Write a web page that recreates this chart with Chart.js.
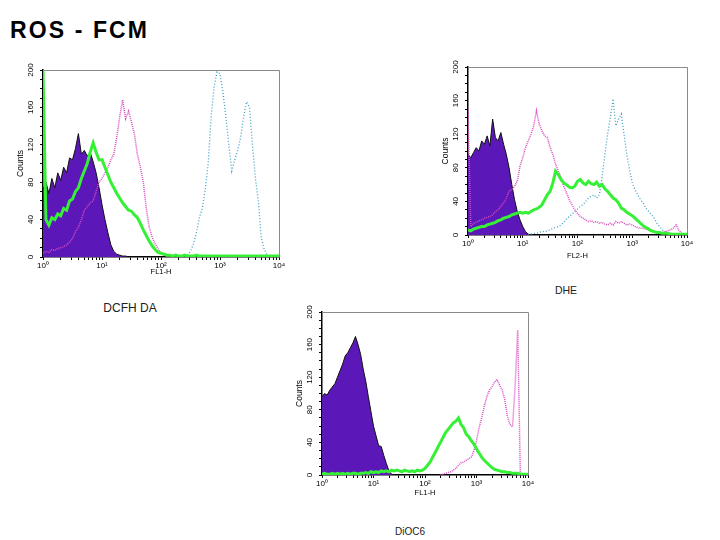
<!DOCTYPE html>
<html>
<head>
<meta charset="utf-8">
<script src="https://cdn.jsdelivr.net/npm/chart.js@4.4.1/dist/chart.umd.min.js"></script>
<style>
  body { margin: 0; width: 720px; height: 540px; background: #fff; position: relative; overflow: hidden; font-family: 'Liberation Sans', Arial, sans-serif; }
  canvas { position: absolute; }
  #titulo { position: absolute; left: 10px; top: 19px; font-size: 23px; line-height: 23px; font-weight: bold; letter-spacing: 2.1px; color: #000; white-space: nowrap; }
  .rotulo { position: absolute; transform: translate(-50%, -50%); color: #222; white-space: nowrap; }
</style>
</head>
<body>
<div id="titulo">ROS - FCM</div>

<canvas id="graficoDCFH" width="282" height="215" style="left:7px; top:62px;"></canvas>
<canvas id="graficoDHE" width="265" height="202" style="left:432px; top:59px;"></canvas>
<canvas id="graficoDiOC6" width="252" height="194" style="left:286px; top:304px;"></canvas>

<div class="rotulo" style="left:130px; top:308px; font-size:12px; line-height:12px;">DCFH DA</div>
<div class="rotulo" style="left:566px; top:290px; font-size:10.5px; line-height:10.5px;">DHE</div>
<div class="rotulo" style="left:410px; top:532px; font-size:10px; line-height:10px;">DiOC6</div>

<script>
const _ = null;

// posicion de cada canal en decadas (10^0 ... 10^4)
const canales = [
  0, 0.05, 0.1, 0.15, 0.2, 0.25, 0.3, 0.35, 0.4, 0.45, 0.5, 0.55, 0.6, 0.65, 0.7, 0.75, 0.8, 0.85, 0.9, 0.95,
  1, 1.05, 1.1, 1.15, 1.2, 1.25, 1.3, 1.35, 1.4, 1.45, 1.5, 1.55, 1.6, 1.65, 1.7, 1.75, 1.8, 1.85, 1.9, 1.95,
  2, 2.05, 2.1, 2.15, 2.2, 2.25, 2.3, 2.35, 2.4, 2.45, 2.5, 2.55, 2.6, 2.65, 2.7, 2.75, 2.8, 2.85, 2.9, 2.95,
  3, 3.05, 3.1, 3.15, 3.2, 3.25, 3.3, 3.35, 3.4, 3.45, 3.5, 3.55, 3.6, 3.65, 3.7, 3.75, 3.8, 3.85, 3.9, 3.95,
  4
];
const etiquetasX = ['10⁰', '10¹', '10²', '10³', '10⁴'];
const etiquetasY = [0, 40, 80, 120, 160, 200];

// DCFH DA (FL1-H)
const dcfhControl = [
  72, 80, 68, 84, 74, 90, 82, 96, 90, 106, 104, 116, 132, 110, 114, 108, 112, 102, 90, 74,
  56, 40, 26, 13, 6, 3, 2, 1, 1, 0, 0, 0, 0, 0, 0, 0, 0, 0, 0, 0,
  _, _, _, _, _, _, _, _, _, _, _, _, _, _, _, _, _, _, _, _,
  _, _, _, _, _, _, _, _, _, _, _, _, _, _, _, _, _, _, _, _,
  _
];
const dcfhVerde = [
  200, 40, 34, 42, 40, 46, 44, 52, 50, 60, 62, 70, 74, 84, 92, 100, 112, 122, 112, 104,
  104, 96, 88, 80, 74, 68, 63, 58, 54, 50, 49, 45, 42, 36, 29, 23, 17, 12, 8, 5,
  4, 3, 2, 2, 1, 2, 1, 1, 2, 1, 1, 1, 2, 1, 1, 1, 1, 1, 1, 1,
  1, 1, 1, 1, 1, 1, 1, 1, 1, 1, 1, 1, 1, 1, 1, 1, 1, 1, 1, 1,
  1
];
const dcfhMagenta = [
  4, 6, 5, 8, 7, 9, 10, 11, 13, 16, 20, 27, 32, 40, 50, 54, 58, 60, 70, 80,
  84, 90, 96, 104, 110, 128, 150, 168, 148, 156, 144, 131, 110, 96, 80, 52, 32, 21, 14, 9,
  4, 2, 1, 0, _, _, _, _, _, _, _, _, _, _, _, _, _, _, _, _,
  _, _, _, _, _, _, _, _, _, _, _, _, _, _, _, _, _, _, _, _,
  _
];
const dcfhCian = [
  _, _, _, _, _, _, _, _, _, _, _, _, _, _, _, _, _, _, _, _,
  _, _, _, _, _, _, _, _, _, _, _, _, _, _, _, _, _, _, _, _,
  _, _, _, _, _, _, _, _, 1, 2, 6, 14, 26, 42, 52, 72, 100, 150, 182, 198,
  196, 176, 150, 120, 92, 104, 114, 128, 150, 166, 160, 120, 84, 60, 20, 8, 2, 0, _, _,
  _
];

// DHE (FL2-H)
const dheControl = [
  96, 92, 98, 104, 100, 112, 108, 118, 106, 138, 116, 112, 122, 108, 96, 80, 60, 42, 28, 18,
  10, 4, 1, 0, _, _, _, _, _, _, _, _, _, _, _, _, _, _, _, _,
  _, _, _, _, _, _, _, _, _, _, _, _, _, _, _, _, _, _, _, _,
  _, _, _, _, _, _, _, _, _, _, _, _, _, _, _, _, _, _, _, _,
  _
];
const dheVerde = [
  6, 5, 7, 8, 9, 10, 10, 12, 13, 14, 15, 17, 18, 20, 21, 22, 24, 25, 26, 27,
  26, 27, 26, 28, 30, 31, 33, 36, 42, 48, 52, 62, 76, 72, 66, 62, 60, 57, 56, 58,
  64, 66, 62, 60, 64, 61, 60, 63, 58, 60, 55, 52, 48, 44, 42, 38, 32, 30, 27, 25,
  23, 20, 17, 14, 11, 9, 7, 5, 4, 3, 3, 2, 2, 2, 1, 1, 1, 1, 1, 1,
  1
];
const dheMagenta = [
  150, 10, 14, 15, 17, 18, 20, 21, 22, 24, 28, 30, 34, 38, 44, 52, 54, 58, 64, 82,
  92, 104, 112, 120, 130, 148, 132, 124, 118, 116, 104, 96, 84, 76, 68, 58, 50, 42, 36, 30,
  26, 22, 20, 18, 16, 17, 15, 16, 14, 15, 13, 12, 14, 12, 16, 14, 16, 14, 12, 13,
  12, 10, 9, 8, 8, 7, 6, 5, 4, 4, 3, 3, 4, 5, 6, 8, 12, 6, 2, 0,
  _
];
const dheCian = [
  _, _, _, _, _, _, _, _, _, _, _, _, _, _, _, _, _, _, _, _,
  _, _, 1, 1, 2, 2, 3, 4, 4, 5, 6, 8, 9, 10, 12, 15, 19, 22, 25, 28,
  31, 34, 36, 40, 44, 46, 48, 44, 48, 70, 96, 120, 140, 162, 130, 138, 144, 120, 96, 78,
  62, 54, 48, 42, 38, 32, 28, 24, 20, 14, 10, 6, 4, 2, 1, 0, _, _, _, _,
  _
];

// DiOC6 (FL1-H)
const diocControl = [
  96, 100, 98, 104, 108, 112, 120, 128, 136, 146, 150, 156, 162, 170, 160, 148, 130, 115, 96, 78,
  60, 48, 36, 35, 24, 14, 5, 1, 0, 0, _, _, _, _, _, _, _, _, _, _,
  _, _, _, _, _, _, _, _, _, _, _, _, _, _, _, _, _, _, _, _,
  _, _, _, _, _, _, _, _, _, _, _, _, _, _, _, _, _, _, _, _,
  _
];
const diocVerde = [
  1, 2, 1, 1, 2, 1, 2, 1, 2, 1, 2, 1, 2, 2, 1, 2, 2, 3, 2, 4,
  3, 4, 3, 5, 4, 5, 4, 6, 5, 6, 5, 4, 6, 5, 4, 5, 4, 6, 5, 6,
  8, 12, 16, 22, 28, 34, 40, 46, 52, 56, 60, 64, 66, 70, 62, 58, 50, 47, 42, 38,
  32, 27, 22, 18, 15, 12, 9, 7, 6, 5, 4, 4, 3, 3, 2, 2, 2, 1, 1, 1,
  1
];
const diocMagenta = [
  _, _, _, _, _, _, _, _, _, _, _, _, _, _, _, _, _, _, _, _,
  _, _, _, _, _, _, _, _, _, _, _, _, _, _, _, _, _, _, _, _,
  _, _, _, _, _, _, 0, 1, 2, 3, 4, 6, 8, 12, 15, 16, 18, 20, 22, 30,
  42, 58, 70, 84, 96, 104, 108, 114, 117, 110, 104, 92, 72, 62, 59, 110, 178, 4, 0, _,
  _
];

const fuente = "'Liberation Sans', Arial, sans-serif";

const estilos = {
  control: { borderColor: '#111', borderWidth: 1, backgroundColor: '#5b17b8', fill: 'origin' },
  verde: { borderColor: '#35f035', borderWidth: 3, fill: false },
  magenta: { borderColor: '#d94cc0', borderWidth: 1.5, borderDash: [1, 1], fill: false },
  cian: { borderColor: '#3f9fc2', borderWidth: 1.3, borderDash: [1, 2], fill: false }
};

// linea gris arriba y a la derecha del area del grafico
const marco = {
  id: 'marco',
  afterDatasetsDraw(chart) {
    const { ctx, chartArea: a } = chart;
    ctx.save();
    ctx.strokeStyle = '#8a8a8a';
    ctx.lineWidth = 1;
    ctx.beginPath();
    ctx.moveTo(a.left, a.top + 0.5);
    ctx.lineTo(a.right + 0.5, a.top + 0.5);
    ctx.lineTo(a.right + 0.5, a.bottom);
    ctx.stroke();
    ctx.restore();
  }
};

function aPuntos(valores) {
  return valores.map((v, i) => ({ x: 10 ** canales[i], y: v }));
}

function crearPanel(idCanvas, tituloX, series, altoX) {
  const datasets = series.map(s => Object.assign({
    data: aPuntos(s.valores),
    pointRadius: 0,
    tension: 0
  }, estilos[s.tipo]));

  return new Chart(document.getElementById(idCanvas), {
    type: 'line',
    data: { datasets },
    plugins: [marco],
    options: {
      responsive: false,
      animation: false,
      layout: { padding: { top: 8, right: 10, left: 0, bottom: 0 } },
      plugins: { legend: { display: false }, tooltip: { enabled: false } },
      scales: {
        x: {
          type: 'logarithmic',
          min: 1,
          max: 10000,
          afterBuildTicks: (eje) => {
            eje.ticks = eje.ticks.filter(t => {
              const m = t.value / 10 ** Math.floor(Math.log10(t.value) + 1e-9);
              return Math.abs(m - 1.5) > 1e-6;
            });
          },
          afterFit: (eje) => { eje.height = altoX; },
          grid: { drawOnChartArea: false, drawTicks: true, tickLength: 3, color: '#000' },
          border: { color: '#000', width: 1.5 },
          ticks: {
            autoSkip: false,
            maxRotation: 0,
            padding: 1,
            color: '#000',
            font: { family: fuente, size: 8 },
            callback: (valor) => {
              const exp = Math.round(Math.log10(valor));
              return Math.abs(10 ** exp - valor) < 1e-6 ? etiquetasX[exp] : '';
            }
          },
          title: { display: true, text: tituloX, color: '#000', font: { family: fuente, size: 7.5 }, padding: { top: 0, bottom: 1 } }
        },
        y: {
          min: 0,
          max: 200,
          afterFit: (eje) => { eje.width = 36; },
          grid: { drawOnChartArea: false, drawTicks: true, tickLength: 3, color: '#000' },
          border: { color: '#000', width: 1.5 },
          ticks: {
            stepSize: 10,
            autoSkip: false,
            minRotation: 90,
            maxRotation: 90,
            crossAlign: 'center',
            padding: 3,
            color: '#000',
            font: { family: fuente, size: 8 },
            callback: (valor) => etiquetasY.includes(valor) ? String(valor) : ''
          },
          title: { display: true, text: 'Counts', color: '#000', font: { family: fuente, size: 8.5 }, padding: { top: 8.4, bottom: 0 } }
        }
      }
    }
  });
}

crearPanel('graficoDCFH', 'FL1-H', [
  { tipo: 'verde', valores: dcfhVerde },
  { tipo: 'cian', valores: dcfhCian },
  { tipo: 'magenta', valores: dcfhMagenta },
  { tipo: 'control', valores: dcfhControl }
], 20);

crearPanel('graficoDHE', 'FL2-H', [
  { tipo: 'verde', valores: dheVerde },
  { tipo: 'cian', valores: dheCian },
  { tipo: 'magenta', valores: dheMagenta },
  { tipo: 'control', valores: dheControl }
], 26);

crearPanel('graficoDiOC6', 'FL1-H', [
  { tipo: 'verde', valores: diocVerde },
  { tipo: 'magenta', valores: diocMagenta },
  { tipo: 'control', valores: diocControl }
], 23);
</script>
</body>
</html>
